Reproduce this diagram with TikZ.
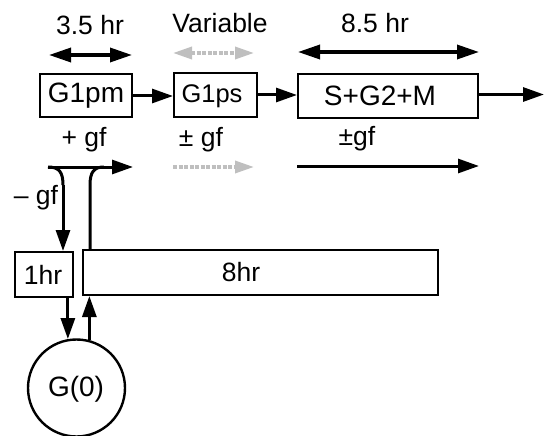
\documentclass[tikz,border=0pt]{standalone}
\usepackage{fontspec}
\setmainfont{Liberation Sans}
\usetikzlibrary{arrows.meta}
\begin{document}
\begin{tikzpicture}[x=1pt,y=-1pt,
  lbl/.style={font=\fontsize{26.5}{29}\selectfont, inner sep=0pt},
  boxtxt/.style={font=\fontsize{28}{30}\selectfont},
  cellbox/.style={draw, line width=2pt, inner sep=0pt, anchor=center},
  tip/.style={-{Triangle[length=21pt,width=14pt]}},
  dtip/.style={{Triangle[length=22pt,width=14pt]}-{Triangle[length=22pt,width=14pt]}},
  conn/.style={line width=3pt, tip},
  span/.style={line width=3.4pt},
  grayline/.style={line width=3.4pt, draw=gray!50, dash pattern=on 4pt off 1.5pt},
  graytip/.style={-{Triangle[length=19pt,width=12pt]}},
  graydtip/.style={{Triangle[length=19pt,width=12pt]}-{Triangle[length=19pt,width=12pt]}}
]
\useasboundingbox (0,0) rectangle (544,436);

% top labels
\node[lbl] (t1) at (90,25) {3.5 hr};
\node[lbl] (t2) at (220,23) {Variable};
\node[lbl] (t3) at (375,23) {8.5 hr};

% span arrows
\coordinate (s1a) at (49,55);  \coordinate (s1b) at (132,55);
\coordinate (s2a) at (173,53); \coordinate (s2b) at (254,53);
\coordinate (s3a) at (298,52); \coordinate (s3b) at (479,52);
\draw[span,dtip] (s1a) -- (s1b);
\draw[grayline,graydtip] (s2a) -- (s2b);
\draw[span,dtip] (s3a) -- (s3b);

% main boxes
\node[cellbox, minimum width=92pt, minimum height=43pt] (g1pm) at (86,95.5) {};
\node[boxtxt] (g1pmt) at (86,96) {G1pm};
\node[cellbox, minimum width=83pt, minimum height=44pt] (g1ps) at (215.5,95) {};
\node[boxtxt, font=\fontsize{25.5}{30}\selectfont] (g1pst) at (212,96) {G1ps};
\node[cellbox, minimum width=180pt, minimum height=44pt] (sgm) at (388,96) {};
\node[boxtxt] (sgmt) at (380,96) {S+G2+M};
\coordinate (outR) at (544,94.5);

\draw[conn] (g1pm.east |- 0,96) -- (g1ps.west |- 0,96);
\draw[conn] (g1ps.east |- 0,95) -- (sgm.west |- 0,95);
\draw[conn] (sgm.east |- outR) -- (outR);

% gf labels
\node[lbl] (gf1) at (84,140) {+ gf};
\node[lbl] (gf2) at (201,140) {± gf};
\node[lbl] (gf3) at (357,139) {±gf};
\node[lbl] (gf4) at (36,198) {– gf};

% lower arrows
\coordinate (b1a) at (48,167); \coordinate (b1b) at (133,167);
\coordinate (b2a) at (173,167); \coordinate (b2b) at (254,167);
\coordinate (b3a) at (297,166); \coordinate (b3b) at (479,166);
\draw[conn] (b1a) -- (b1b);
\draw[grayline,graytip] (b2a) -- (b2b);
\draw[conn] (b3a) -- (b3b);

% lower boxes
\node[cellbox, minimum width=58pt, minimum height=45pt] (h1) at (44,274.5) {};
\node[lbl] (h1t) at (43,274.5) {1hr};
\node[cellbox, minimum width=355pt, minimum height=45pt] (h8) at (260.5,272.5) {};
\node[lbl] (h8t) at (241,272.5) {8hr};

% circle
\node[draw, circle, line width=2.4pt, minimum size=97pt, inner sep=0pt] (g0) at (76.5,388) {};
\node[boxtxt] (g0t) at (76,389) {G(0)};

% curved connectors
\coordinate (cL) at (63,185);
\coordinate (cR) at (90,185);
\draw[line width=3pt] (b1a) .. controls (59,167) and (63,172) .. (cL);
\draw[conn] (cL) -- (h1.north -| cL);
\draw[line width=3pt] (h8.north -| cR) -- (cR) .. controls (90,172) and (94,167) .. (104,167);

% circle connectors
\draw[conn] (h1.south -| g0.100) -- (g0.100);
\draw[conn] (g0.75) -- (h8.south -| g0.75);
\end{tikzpicture}
\end{document}
